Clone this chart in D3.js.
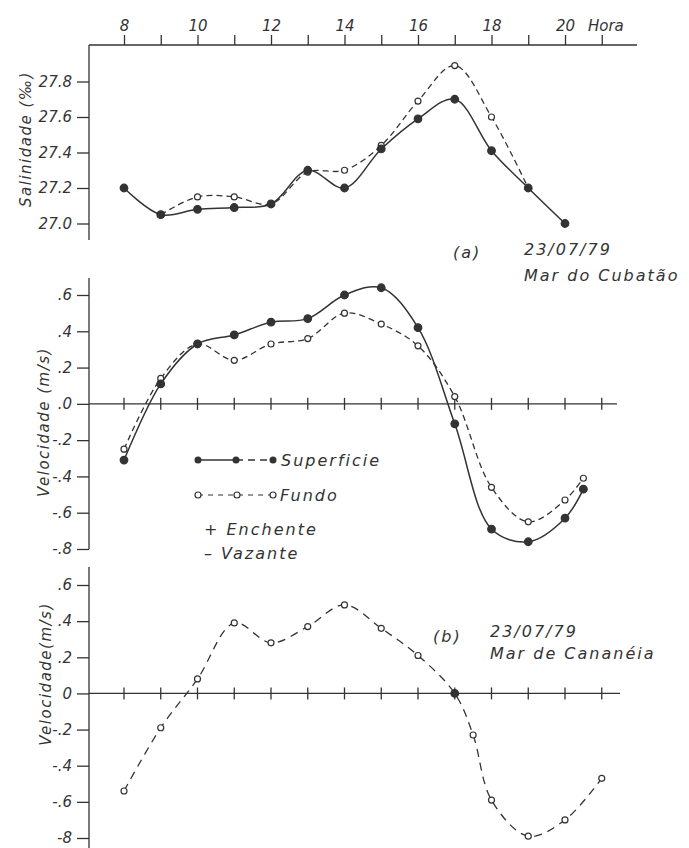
<!DOCTYPE html>
<html>
<head>
<meta charset="utf-8">
<script src="https://cdn.jsdelivr.net/npm/d3@7/dist/d3.min.js"></script>
<style>
  body { margin: 0; background: #fff; }
  svg text {
    font-family: "DejaVu Sans", sans-serif;
    font-style: italic;
    fill: #333;
  }
  .lbl { font-size: 16px; letter-spacing: 2px; }
  .ylbl { font-size: 15px; letter-spacing: 1.5px; }
  .tick-lbl { font-size: 15px; }
</style>
</head>
<body>
<svg id="chart" width="689" height="848"></svg>
<script>
// hours on the shared x axis
const horaTicks = [8, 9, 10, 11, 12, 13, 14, 15, 16, 17, 18, 19, 20, 21];
const horaLabels = [8, 10, 12, 14, 16, 18, 20];

// (a) salinity, Mar do Cubatão
const salHorasSup = [8, 9, 10, 11, 12, 13, 14, 15, 16, 17, 18, 19, 20];
const salSuperficie = [27.20, 27.05, 27.08, 27.09, 27.11, 27.30, 27.20, 27.42, 27.59, 27.70, 27.41, 27.20, 27.00];
const salHorasFun = [9, 10, 11, 12, 13, 14, 15, 16, 17, 18, 19];
const salFundo = [27.05, 27.15, 27.15, 27.11, 27.29, 27.30, 27.44, 27.69, 27.89, 27.60, 27.20];
const salTicks = [27.0, 27.2, 27.4, 27.6, 27.8];

// (a) velocity, Mar do Cubatão
const velHorasA = [8, 9, 10, 11, 12, 13, 14, 15, 16, 17, 18, 19, 20, 20.5];
const velSupA = [-0.31, 0.11, 0.33, 0.38, 0.45, 0.47, 0.60, 0.64, 0.42, -0.11, -0.69, -0.76, -0.63, -0.47];
const velFunA = [-0.25, 0.14, 0.33, 0.24, 0.33, 0.36, 0.50, 0.44, 0.32, 0.04, -0.46, -0.65, -0.53, -0.41];
const velTicksA = [0.6, 0.4, 0.2, 0, -0.2, -0.4, -0.6, -0.8];
const velLabelsA = ['.6', '.4', '.2', '.0', '-.2', '-.4', '-.6', '-.8'];

// (b) velocity, Mar de Cananéia
const velHorasB = [8, 9, 10, 11, 12, 13, 14, 15, 16, 17, 17.5, 18, 19, 20, 21];
const velFunB = [-0.54, -0.19, 0.08, 0.39, 0.28, 0.37, 0.49, 0.36, 0.21, 0.00, -0.23, -0.59, -0.79, -0.70, -0.47];
const velTicksB = [0.6, 0.4, 0.2, 0, -0.2, -0.4, -0.6, -0.8];
const velLabelsB = ['.6', '.4', '.2', '0', '-.2', '-.4', '-.6', '-8'];

const ink = '#333';
const svg = d3.select('#chart');

const x = d3.scaleLinear().domain([8, 20]).range([124, 565]);
const ySal = d3.scaleLinear().domain([27.0, 27.8]).range([223.5, 81.5]);
const yVelA = d3.scaleLinear().domain([-0.8, 0.6]).range([549, 295]);
const yVelB = d3.scaleLinear().domain([-0.8, 0.6]).range([838, 585]);
const axisX = 89;

const curve = d3.curveCatmullRom.alpha(0.5);

// top hour axis
const topAxis = svg.append('g').attr('transform', 'translate(0,45)');
topAxis.call(d3.axisTop(x).tickValues(horaTicks).tickSize(10).tickFormat(d => horaLabels.includes(d) ? d : ''));
topAxis.select('.domain').remove();
topAxis.append('line').attr('x1', axisX).attr('x2', 637).attr('stroke', ink).attr('stroke-width', 1.3);
topAxis.selectAll('.tick line').attr('stroke', ink).attr('stroke-width', 1.3);
topAxis.selectAll('.tick text').attr('class', 'tick-lbl').attr('font-size', null).attr('font-family', null).attr('fill', ink).attr('dy', '-0.1em');
topAxis.append('text').attr('class', 'tick-lbl')
  .attr('text-anchor', 'start')
  .attr('x', 588).attr('y', -14).text('Hora');

function leftAxis(scale, ticks, labels, y0, y1) {
  const g = svg.append('g').attr('transform', `translate(${axisX},0)`);
  g.call(d3.axisLeft(scale).tickValues(ticks).tickSize(12).tickPadding(5)
    .tickFormat((d, i) => labels[i]));
  g.select('.domain').remove();
  g.append('line').attr('y1', y0).attr('y2', y1).attr('stroke', ink).attr('stroke-width', 1.3);
  g.selectAll('.tick line').attr('stroke', ink).attr('stroke-width', 1.3);
  g.selectAll('.tick text').attr('class', 'tick-lbl').attr('font-size', null).attr('font-family', null).attr('fill', ink);
  return g;
}

function zeroAxis(scale, x2) {
  const g = svg.append('g').attr('transform', `translate(0,${scale(0)})`);
  g.append('line').attr('x1', axisX).attr('x2', x2).attr('stroke', ink).attr('stroke-width', 1.3);
  g.selectAll('.hr').data(horaTicks).join('line')
    .attr('x1', d => x(d)).attr('x2', d => x(d))
    .attr('y1', -6).attr('y2', 6)
    .attr('stroke', ink).attr('stroke-width', 1.3);
}

function series(hours, vals, yScale, opts) {
  const pts = hours.map((h, i) => [h, vals[i]]);
  const line = d3.line().x(d => x(d[0])).y(d => yScale(d[1])).curve(curve);
  const isFilled = d => opts.filled || (opts.filledAt && opts.filledAt.includes(d[0]));
  svg.append('path').datum(pts)
    .attr('d', line)
    .attr('fill', 'none')
    .attr('stroke', ink)
    .attr('stroke-width', opts.width || 1.5)
    .attr('stroke-dasharray', opts.dash || null);
  svg.append('g').selectAll('circle').data(pts).join('circle')
    .attr('cx', d => x(d[0])).attr('cy', d => yScale(d[1]))
    .attr('r', d => isFilled(d) ? 3.8 : 3)
    .attr('fill', d => isFilled(d) ? ink : '#fff')
    .attr('stroke', ink)
    .attr('stroke-width', 1.2);
}

function rotLabel(text, cx, cy) {
  svg.append('text').attr('class', 'ylbl')
    .attr('transform', `translate(${cx},${cy}) rotate(-90)`)
    .attr('text-anchor', 'middle')
    .attr('dy', '0.35em')
    .text(text);
}

// panel 1: salinity
leftAxis(ySal, salTicks, salTicks.map(d => d.toFixed(1)), 45, 240);
series(salHorasFun, salFundo, ySal, { dash: '6,4', width: 1.3 });
series(salHorasSup, salSuperficie, ySal, { filled: true });
rotLabel('Salinidade (‰)', 26, 139);

svg.append('text').attr('class', 'lbl').attr('x', 453).attr('y', 258).text('(a)');
svg.append('text').attr('class', 'lbl').attr('x', 524).attr('y', 255).text('23/07/79');
svg.append('text').attr('class', 'lbl').attr('x', 524).attr('y', 281).text('Mar do Cubatão');

// panel 2: velocity (a)
leftAxis(yVelA, velTicksA, velLabelsA, 278, 549);
zeroAxis(yVelA, 617);
series(velHorasA, velFunA, yVelA, { dash: '6,4', width: 1.3 });
series(velHorasA, velSupA, yVelA, { filled: true });
rotLabel('Velocidade (m/s)', 44, 422);

// legend
const leg = svg.append('g');
leg.append('line').attr('x1', 198).attr('x2', 236).attr('y1', 460).attr('y2', 460).attr('stroke', ink).attr('stroke-width', 1.5);
leg.append('line').attr('x1', 236).attr('x2', 273).attr('y1', 460).attr('y2', 460).attr('stroke', ink).attr('stroke-width', 1.5).attr('stroke-dasharray', '7,5');
leg.selectAll('.ls').data([198, 236, 273]).join('circle')
  .attr('cx', d => d).attr('cy', 460).attr('r', 3.5).attr('fill', ink);
leg.append('text').attr('class', 'lbl').attr('x', 281).attr('y', 466).text('Superficie');

leg.append('line').attr('x1', 198).attr('x2', 273).attr('y1', 495).attr('y2', 495).attr('stroke', ink).attr('stroke-width', 1.2).attr('stroke-dasharray', '5,5');
leg.selectAll('.lf').data([198, 237, 273]).join('circle')
  .attr('cx', d => d).attr('cy', 495).attr('r', 3).attr('fill', '#fff').attr('stroke', ink).attr('stroke-width', 1.2);
leg.append('text').attr('class', 'lbl').attr('x', 280).attr('y', 501).text('Fundo');

leg.append('text').attr('class', 'lbl').attr('x', 204).attr('y', 535).text('+ Enchente');
leg.append('text').attr('class', 'lbl').attr('x', 204).attr('y', 559).text('– Vazante');

// panel 3: velocity (b)
leftAxis(yVelB, velTicksB, velLabelsB, 567, 848);
zeroAxis(yVelB, 620);
series(velHorasB, velFunB, yVelB, { dash: '8,6', width: 1.3, filledAt: [17] });
rotLabel('Velocidade(m/s)', 46, 674);

svg.append('text').attr('class', 'lbl').attr('x', 433).attr('y', 642).text('(b)');
svg.append('text').attr('class', 'lbl').attr('x', 490).attr('y', 637).text('23/07/79');
svg.append('text').attr('class', 'lbl').attr('x', 490).attr('y', 659).text('Mar de Cananéia');
</script>
</body>
</html>
